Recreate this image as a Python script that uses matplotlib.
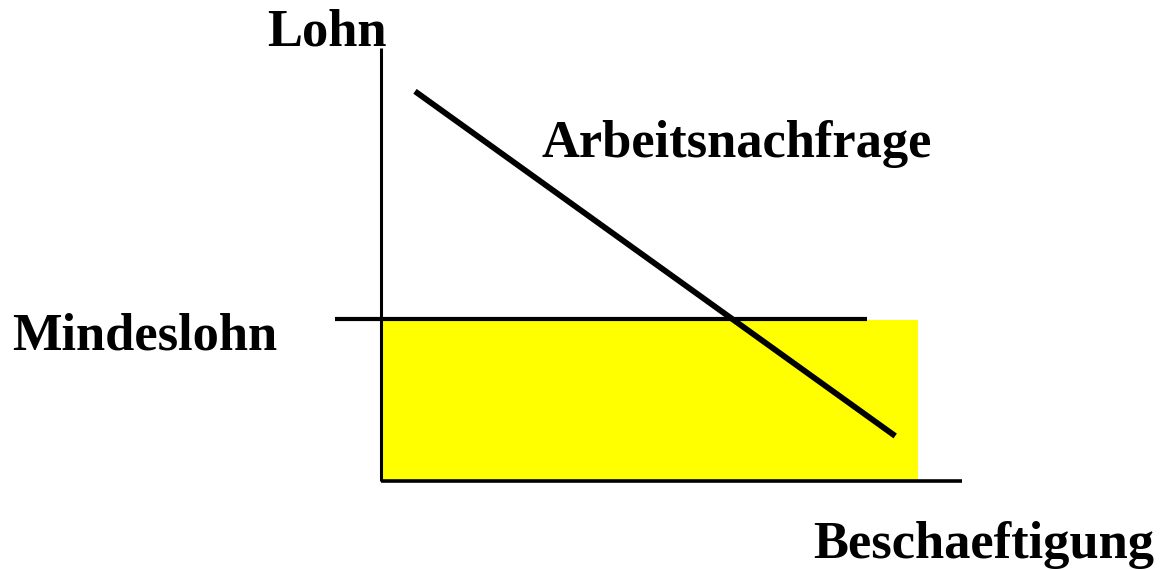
import matplotlib
matplotlib.use("Agg")
import matplotlib.pyplot as plt
from matplotlib.patches import Rectangle

# Data (employment on x, wage on y, axis units 0..100)
demand_x = [5.85, 88.5]
demand_y = [90.0, 10.4]
min_wage = 37.4
min_wage_line_x = [-7.9, 83.6]
shade_width = 92.4
shade_height = 37.1
labels = {"y": "Lohn", "x": "Beschaeftigung", "demand": "Arbeitsnachfrage", "minwage": "Mindeslohn"}

W, H = 1163, 570
fig = plt.figure(figsize=(W / 100, H / 100), dpi=100)
ax = fig.add_axes([381 / W, (H - 481) / H, (962 - 381) / W, (481 - 48) / H])
ax.set_xlim(0, 100)
ax.set_ylim(0, 100)
ax.axis("off")

ax.add_patch(Rectangle((0, 0), shade_width, shade_height, facecolor="#ffff00", edgecolor="none", zorder=1))
ax.plot([0, 0], [0, 100], color="black", lw=2.2, solid_capstyle="butt", clip_on=False, zorder=3)
ax.plot([0, 100], [0, 0], color="black", lw=2.6, solid_capstyle="butt", clip_on=False, zorder=3)
ax.plot(min_wage_line_x, [min_wage, min_wage], color="black", lw=3.0, solid_capstyle="butt", clip_on=False, zorder=3)
ax.plot(demand_x, demand_y, color="black", lw=4.2, solid_capstyle="butt", clip_on=False, zorder=4)

font = dict(family="Liberation Serif", weight="bold", fontsize=37.8, color="black")
fig.text(267 / W, 1 - 46 / H, labels["y"], ha="left", va="baseline", **font)
fig.text(542 / W, 1 - 157 / H, labels["demand"], ha="left", va="baseline", **font)
fig.text(12 / W, 1 - 350 / H, labels["minwage"], ha="left", va="baseline", **font)
fig.text(813 / W, 1 - 558 / H, labels["x"], ha="left", va="baseline", **font)

fig.savefig("out.png", dpi=100, facecolor="white")
